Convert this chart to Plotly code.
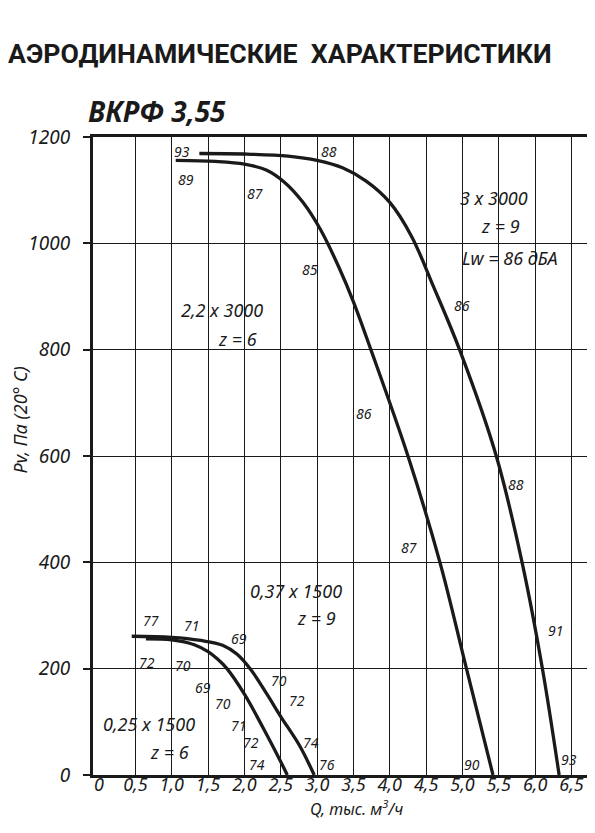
import plotly.graph_objects as go

# Fan curves: Q (thousand m3/h) vs Pv (Pa)
Q_3000_30 = [1.38, 2.0, 2.6, 3.0, 3.35, 3.675, 4.0, 4.3, 4.6, 4.96, 5.465, 5.82, 6.10, 6.33]
P_3000_30 = [1169, 1168, 1164, 1156, 1142, 1117, 1077, 1013, 919, 800, 600, 400, 200, 0]

Q_3000_22 = [1.055, 1.6, 2.0, 2.3, 2.55, 2.8, 3.05, 3.3, 3.5, 3.74, 4.25, 4.69, 5.055, 5.42]
P_3000_22 = [1156, 1154, 1149, 1138, 1115, 1078, 1025, 955, 890, 800, 600, 400, 200, 0]

Q_1500_037 = [0.45, 1.0, 1.4, 1.7, 1.9, 2.1, 2.31, 2.5, 2.76, 2.96]
P_1500_037 = [261, 259, 253, 244, 227, 196, 152, 110, 55, 0]

Q_1500_025 = [0.645, 1.0, 1.31, 1.5, 1.63, 1.76, 2.0, 2.26, 2.5, 2.59]
P_1500_025 = [256, 254, 245, 232, 218, 200, 152, 88, 25, 0]

# noise level labels (Q, P, text)
NOISE_Q = [1.14, 1.2, 2.14, 3.17, 2.9, 4.99, 3.64, 5.74, 4.26, 6.28, 6.47, 5.13,
           3.14, 2.92, 2.73, 2.48, 1.93, 1.27, 0.72,
           0.66, 1.15, 1.43, 1.71, 1.92, 2.09, 2.18]
NOISE_P = [1172, 1120, 1094, 1172, 951, 883, 680, 547, 428, 271, 30, 20,
           20, 61, 141, 177, 256, 281, 290,
           212, 206, 165, 135, 93, 61, 20]
NOISE_T = ['93', '89', '87', '88', '85', '86', '86', '88', '87', '91', '93', '90',
           '76', '74', '72', '70', '69', '71', '77',
           '72', '70', '69', '70', '71', '72', '74']

# motor captions (Q, P, text)
CAP_Q = [5.43, 5.52, 5.66, 1.69, 1.90, 2.71, 2.99, 0.69, 0.965]
CAP_P = [1086, 1033, 973, 874, 821, 347, 295, 96, 44]
CAP_T = ['3 x 3000', 'z = 9', 'Lw = 86 дБА', '2,2 x 3000', 'z = 6',
         '0,37 x 1500', 'z = 9', '0,25 x 1500', 'z = 6']

X_TICKS = [0, 0.5, 1.0, 1.5, 2.0, 2.5, 3.0, 3.5, 4.0, 4.5, 5.0, 5.5, 6.0, 6.5]
X_TICKTEXT = ['0', '0,5', '1,0', '1,5', '2,0', '2,5', '3,0', '3,5', '4,0', '4,5',
              '5,0', '5,5', '6,0', '6,5']
Y_TICKS = [0, 200, 400, 600, 800, 1000, 1200]

INK = '#1a1a1a'
FONT = 'Noto Sans, Open Sans, sans-serif'

fig = go.Figure()
for q, p in [(Q_3000_30, P_3000_30), (Q_3000_22, P_3000_22),
             (Q_1500_037, P_1500_037), (Q_1500_025, P_1500_025)]:
    fig.add_trace(go.Scatter(x=q, y=p, mode='lines',
                             line=dict(color=INK, width=3.3, shape='spline', smoothing=1.0),
                             showlegend=False, hoverinfo='skip'))

for q, p, t in zip(NOISE_Q, NOISE_P, NOISE_T):
    fig.add_annotation(x=q, y=p, text=t, showarrow=False, xref='x', yref='y',
                       font=dict(family=FONT, size=14, color=INK, style='italic'))
for q, p, t in zip(CAP_Q, CAP_P, CAP_T):
    fig.add_annotation(x=q, y=p, text=t, showarrow=False, xref='x', yref='y',
                       font=dict(family=FONT, size=18, color=INK, style='italic'))

# headings and axis titles (positions in paper units of the plot area)
fig.add_annotation(x=(78 - 85) / 498.3, y=(766.7 - 103) / 637.4, xref='paper', yref='paper',
                   text='<b>ВКРФ 3,55</b>', showarrow=False, xanchor='left', yanchor='middle',
                   font=dict(family=FONT, size=28, color=INK, style='italic'))
fig.add_annotation(x=(350 - 85) / 498.3, y=(766.7 - 800) / 637.4, xref='paper', yref='paper',
                   text='Q, тыс. м<sup>3</sup>/ч', showarrow=False,
                   xanchor='center', yanchor='middle',
                   font=dict(family=FONT, size=16, color=INK, style='italic'))
fig.add_annotation(x=(11 - 85) / 498.3, y=(766.7 - 412) / 637.4, xref='paper', yref='paper',
                   text='Pv, Па (20° C)', showarrow=False, textangle=-90,
                   xanchor='center', yanchor='middle',
                   font=dict(family=FONT, size=18, color=INK, style='italic'))

fig.update_layout(
    width=595, height=833,
    margin=dict(l=85, r=12, t=129, b=66),
    paper_bgcolor='white', plot_bgcolor='white',
    title=dict(text='<b>АЭРОДИНАМИЧЕСКИЕ  ХАРАКТЕРИСТИКИ</b>',
               x=0, y=1 - 46 / 833, xanchor='left', yanchor='middle',
               font=dict(family='Roboto, sans-serif', size=26.7, color=INK)),
    xaxis=dict(range=[-0.083, 6.727], tickvals=X_TICKS, ticktext=X_TICKTEXT,
               showgrid=False, zeroline=False, ticks='', ticklen=0, ticklabelstandoff=-9,
               tickfont=dict(family=FONT, size=18, color=INK, style='italic'),
               showline=True, mirror=True, linecolor=INK, linewidth=3,
               minor=dict(tickvals=X_TICKS[1:], showgrid=True, gridcolor=INK, gridwidth=1.3, ticks='')),
    yaxis=dict(range=[0, 1200], tickvals=Y_TICKS, ticktext=[str(v) for v in Y_TICKS],
               showgrid=True, gridcolor=INK, gridwidth=1.3, zeroline=False,
               ticks='outside', ticklen=7, tickwidth=1.5, tickcolor=INK, ticklabelstandoff=9,
               tickfont=dict(family=FONT, size=19, color=INK, style='italic'),
               showline=True, mirror=True, linecolor=INK, linewidth=3),
)

fig.write_html('out.html')
